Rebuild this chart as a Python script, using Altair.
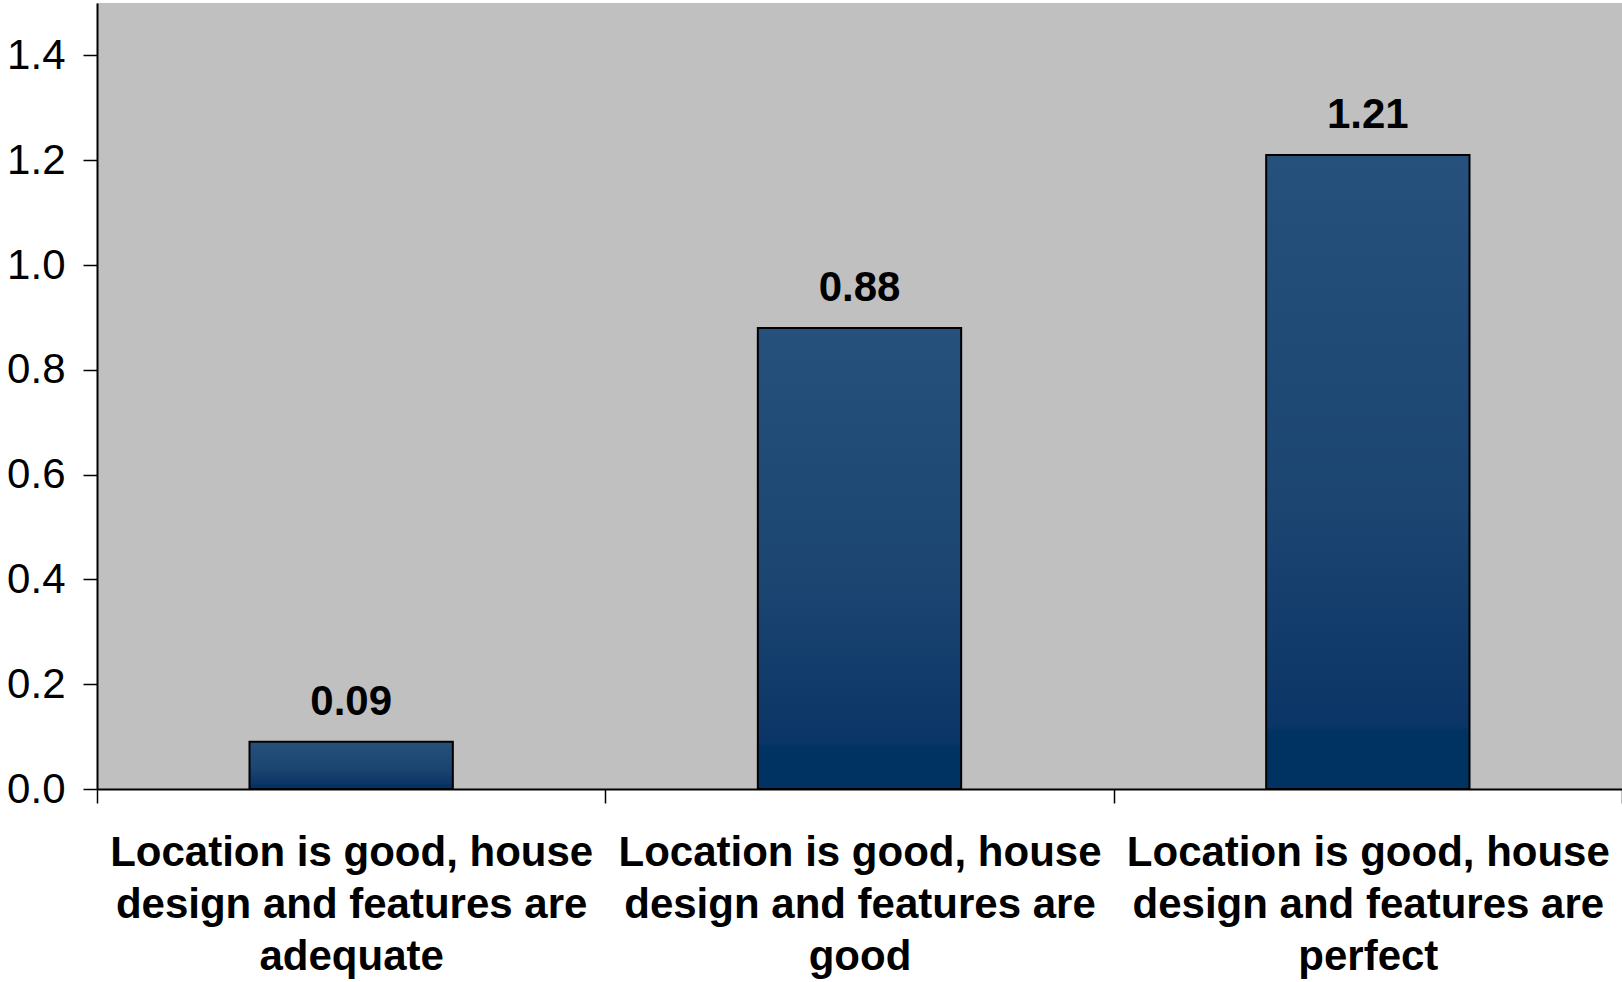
import altair as alt
import pandas as pd

# Category labels (line breaks marked with "\n") and bar values
categories = [
    "Location is good, house\ndesign and features are\nadequate",
    "Location is good, house\ndesign and features are\ngood",
    "Location is good, house\ndesign and features are\nperfect",
]
values = [0.09, 0.88, 1.21]
y_ticks = [0.0, 0.2, 0.4, 0.6, 0.8, 1.0, 1.2, 1.4]

df = pd.DataFrame({"category": categories, "value": values})

FONT = "Liberation Sans"

bar_fill = alt.Gradient(
    gradient="linear",
    x1=0, x2=0, y1=0, y2=1,
    stops=[
        alt.GradientStop(color="#25517c", offset=0.0),
        alt.GradientStop(color="#1c4572", offset=0.55),
        alt.GradientStop(color="#0b3566", offset=0.9),
        alt.GradientStop(color="#003262", offset=0.91),
        alt.GradientStop(color="#003262", offset=1.0),
    ],
)

# Full-width bands so the category ticks sit on the band boundaries;
# bars take 40% of each band.
x_enc = alt.X(
    "category:N",
    sort=categories,
    scale=alt.Scale(paddingInner=0, paddingOuter=0),
    axis=alt.Axis(
        title=None,
        labelAngle=0,
        labelExpr="split(datum.label, '\\n')",
        labelFont=FONT,
        labelFontSize=42,
        labelFontWeight="bold",
        labelColor="black",
        labelLineHeight=52,
        labelPadding=29,
        labelLimit=0,
        tickBand="extent",
        tickSize=14,
        tickColor="black",
        tickWidth=1.5,
        domainColor="black",
        domainWidth=2,
        grid=False,
    ),
)

y_enc = alt.Y(
    "value:Q",
    scale=alt.Scale(domain=[0, 1.5], nice=False),
    axis=alt.Axis(
        title=None,
        values=y_ticks,
        format=".1f",
        labelFont=FONT,
        labelFontSize=42,
        labelColor="black",
        labelPadding=18,
        tickSize=14,
        tickColor="black",
        tickWidth=1.5,
        domainColor="black",
        domainWidth=2,
        grid=False,
    ),
)

bars = alt.Chart(df).mark_bar(
    color=bar_fill, stroke="black", strokeWidth=2,
    width=alt.RelativeBandSize(0.4),
).encode(x=x_enc, y=y_enc)

labels = alt.Chart(df).mark_text(
    font=FONT, fontSize=42, fontWeight="bold", color="black",
    baseline="alphabetic", dy=-27
).encode(
    x=alt.X("category:N", sort=categories),
    y=alt.Y("value:Q"),
    text=alt.Text("value:Q", format=".2f"),
)

chart = (
    alt.layer(bars, labels)
    .properties(
        width=1525,
        height=786,
        autosize=alt.AutoSizeParams(type="none"),
        padding={"left": 97, "top": 3, "right": 0, "bottom": 193},
        background="white",
    )
    .configure_view(fill="#c0c0c0", stroke=None)
)

chart.save("out.html", embed_options={"renderer": "svg", "actions": False})
